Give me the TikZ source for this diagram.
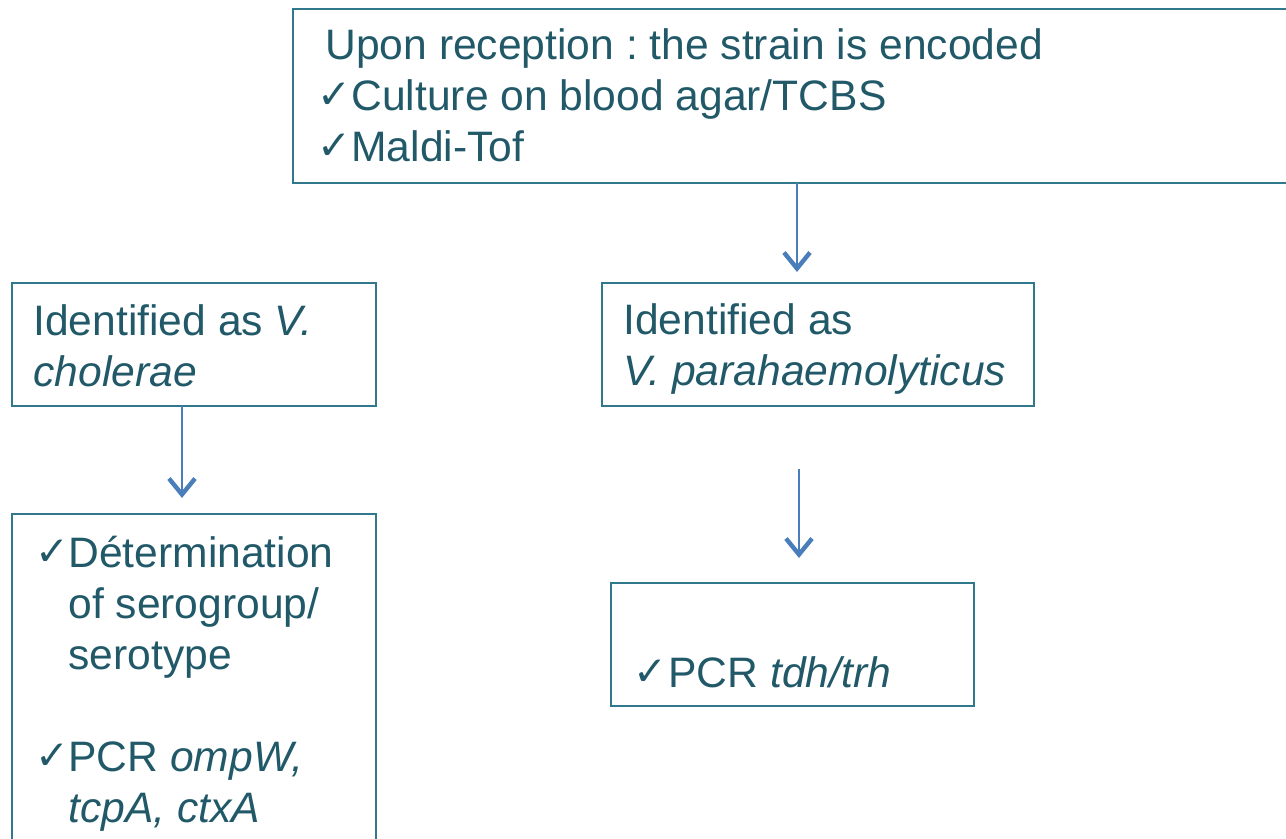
\documentclass[tikz,border=0pt]{standalone}
\usepackage{fontspec}
\setmainfont{Liberation Sans}
\newfontfamily\tickfont{DejaVu Sans}
\usepackage{xcolor}
\usepackage{tikz}
\usetikzlibrary{arrows.meta}
\frenchspacing

\definecolor{inktext}{HTML}{215968}
\definecolor{boxline}{HTML}{31788C}
\definecolor{arrowblue}{HTML}{4A7EBB}
\newcommand{\tick}[1]{\makebox[#1][l]{\tickfont\bfseries\raisebox{1pt}{\scalebox{0.95}{✓}}}}

\begin{document}
\begin{tikzpicture}[x=0.5pt,y=-0.5pt,>={Straight Barb[length=8pt,width=13pt,line width=2.2pt]},
    font=\fontsize{21.3}{25.5}\selectfont]
    \tikzstyle{box}=[draw=boxline, line width=1pt, rectangle, outer sep=0pt, inner sep=0pt, anchor=north west]
    \tikzstyle{txt}=[text=inktext, inner sep=0pt, anchor=base west, align=left]
    \tikzstyle{link}=[->, draw=arrowblue, line width=1pt]
    \useasboundingbox (0,0) rectangle (1286,839);

	\node [box, minimum width=503.5pt, minimum height=87pt] (top) at (293, 9) {};
	\node [box, minimum width=182pt, minimum height=61.5pt] (vc) at (12, 283) {};
	\node [box, minimum width=216pt, minimum height=61.5pt] (vp) at (602, 283) {};
	\node [box, minimum width=182pt, minimum height=173pt] (sero) at (12, 514) {};
	\node [box, minimum width=181.5pt, minimum height=61.5pt] (pcr) at (611, 583) {};

	% base west = baseline of the last line
	\node [txt] (toptext) at (317, 162) {\hspace*{4pt}Upon reception : the strain is encoded\\
		\tick{17pt}Culture on blood agar/TCBS\\ \tick{17pt}Maldi-Tof};
	\node [txt] (vctext) at (33, 387) {Identified as \textit{V.}\\ \textit{cholerae}};
	\node [txt] (vptext) at (623, 386) {Identified as\\ \textit{V. parahaemolyticus}};
	\node [txt] (serotext) at (35, 822) {\tick{16.5pt}Détermination\\ \hspace*{16.5pt}of serogroup/\\
		\hspace*{16.5pt}serotype\\[25.5pt] \tick{16.5pt}PCR \textit{ompW,}\\ \hspace*{16.5pt}\textit{tcpA, ctxA}};
	\node [txt] (pcrtext) at (633, 687) {\tick{17.5pt}PCR \textit{tdh/trh}};

	\coordinate (a1) at (797, 272);
	\coordinate (a2) at (182, 498);
	\coordinate (s3) at (799, 469);
	\coordinate (a3) at (799, 558);

	\draw [link] (top.south -| a1) -- (a1);
	\draw [link] (vc.south -| a2) -- (a2);
	\draw [link] (s3) -- (a3);
\end{tikzpicture}
\end{document}
